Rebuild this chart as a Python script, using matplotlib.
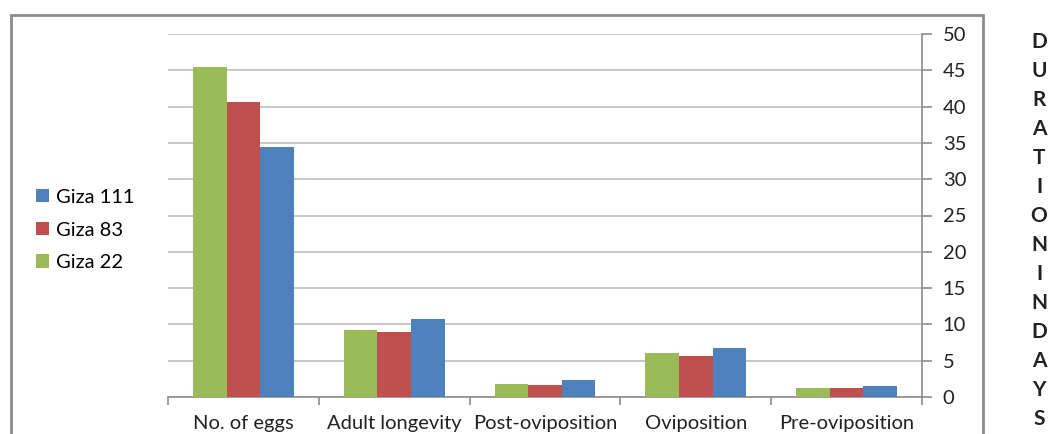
import matplotlib
matplotlib.use("Agg")
import matplotlib.pyplot as plt
import matplotlib.patches as mpatches
import numpy as np

plt.rcParams['font.family'] = ['Lato', 'DejaVu Sans']

categories = ["No. of eggs", "Adult longevity", "Post-oviposition", "Oviposition", "Pre-oviposition"]
giza22 = [45.5, 9.2, 1.8, 6.0, 1.25]
giza83 = [40.6, 9.0, 1.65, 5.7, 1.25]
giza111 = [34.4, 10.7, 2.4, 6.7, 1.5]
yticks = [0, 5, 10, 15, 20, 25, 30, 35, 40, 45, 50]
side_label = "DURATIONINDAYS"

W, H = 1048, 434
fig = plt.figure(figsize=(W / 100, H / 100), dpi=100)
fig.patch.set_facecolor("white")

# outer chart frame (bottom edge runs past the canvas)
frame = mpatches.Rectangle((11 / W, -0.2), (983 - 11) / W, 1.2 - 15 / H,
                           transform=fig.transFigure, fill=False,
                           edgecolor="#8C8C8C", linewidth=2, zorder=0)
fig.patches.append(frame)

ax = fig.add_axes([168 / W, 1 - 397 / H, (922 - 168) / W, (397 - 34) / H])

x = np.arange(len(categories))
bw = 0.223
ax.bar(x - bw, giza22, bw, color="#9BBB59", label="Giza 22", zorder=3)
ax.bar(x, giza83, bw, color="#C0504D", label="Giza 83", zorder=3)
ax.bar(x + bw, giza111, bw, color="#4F81BD", label="Giza 111", zorder=3)

ax.set_xlim(-0.5, len(categories) - 0.5)
ax.set_ylim(0, 50)
ax.set_yticks(yticks)
ax.yaxis.tick_right()
ax.yaxis.grid(True, color="#BEBEBE", linewidth=1.2, zorder=0)
ax.set_axisbelow(True)

for s in ["left", "top"]:
    ax.spines[s].set_visible(False)
for s in ["right", "bottom"]:
    ax.spines[s].set_color("#8C8C8C")
    ax.spines[s].set_linewidth(1.2)

ax.set_xticks(np.arange(len(categories) + 1) - 0.5, minor=False)
ax.set_xticklabels([])
ax.set_xticks(x, minor=True)
ax.set_xticklabels(categories, minor=True, fontsize=14.5, color="#222222")
ax.tick_params(axis="x", which="major", length=6, color="#8C8C8C", width=1.2)
ax.tick_params(axis="x", which="minor", length=0, pad=13)
ax.tick_params(axis="y", length=7, color="#8C8C8C", width=1.2,
               labelsize=14.5, labelcolor="#222222", pad=8)

handles, labels = ax.get_legend_handles_labels()
fig.legend(handles[::-1], labels[::-1], loc="center left",
           bbox_to_anchor=(18 / W, 1 - 230 / H), frameon=False,
           fontsize=14.5, handlelength=0.65, handleheight=0.65,
           handletextpad=0.35, labelspacing=0.78)

top_y, bot_y = 42, 419
step = (bot_y - top_y) / (len(side_label) - 1)
for i, ch in enumerate(side_label):
    fig.text(1039 / W, 1 - (top_y + i * step) / H, ch, ha="center", va="center",
             fontsize=15, fontweight="bold", color="#222222")

fig.savefig("out.png", dpi=100)
